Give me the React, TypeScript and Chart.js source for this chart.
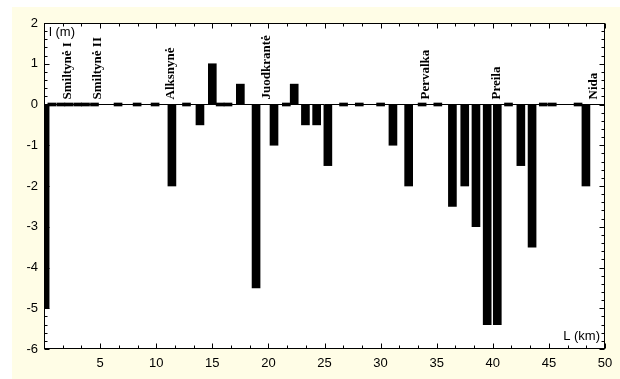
import React, { useEffect, useRef } from "react";
import { Chart, registerables } from "chart.js";
Chart.register(...registerables);

// Position along the spit (km) and shoreline change l (m)
const km = [
  0.1, 0.7, 1.5, 2.2, 3.0, 3.7, 4.5, 6.6, 8.3, 9.9,
  11.4, 12.7, 13.9, 15.0, 15.7, 16.4, 17.5, 18.9, 20.5, 21.6,
  22.3, 23.3, 24.3, 25.3, 26.7, 28.1, 30.0, 31.1, 32.5, 33.7,
  35.1, 36.4, 37.5, 38.5, 39.5, 40.4, 41.4, 42.5, 43.5, 44.5,
  45.3, 47.6, 48.3,
];
const change = [
  -5, 0, 0, 0, 0, 0, 0, 0, 0, 0,
  -2, 0, -0.5, 1, 0, 0, 0.5, -4.5, -1, 0,
  0.5, -0.5, -0.5, -1.5, 0, 0, 0, -1, -2, 0,
  0, -2.5, -2, -3, -5.4, -5.4, 0, -1.5, -3.5, 0,
  0, 0, -2,
];
const stationNames = ["Smiltynė I", "Smiltynė II", "Alksnynė", "Juodkrantė", "Pervalka", "Preila", "Nida"];
const stationKm = [2.1, 4.8, 11.3, 19.8, 34.0, 40.3, 49.0];
const yAxisTitle = "l (m)";
const xAxisTitle = "L (km)";

const decorPlugin = {
  id: "decor",
  beforeDraw(chart: any) {
    const { ctx, chartArea: a, width, height } = chart;
    ctx.save();
    ctx.fillStyle = "#ffffff";
    ctx.fillRect(0, 0, width, height);
    ctx.fillStyle = "#fffde6";
    ctx.fillRect(12, 7, width - 12, height - 7);
    ctx.fillStyle = "#ffffff";
    ctx.fillRect(a.left, a.top, a.right - a.left, a.bottom - a.top);
    ctx.restore();
  },
  afterDatasetsDraw(chart: any) {
    const { ctx, chartArea: a, scales } = chart;
    const xs = scales.x;
    const ys = scales.y;
    ctx.save();
    ctx.strokeStyle = "#000";
    ctx.lineWidth = 1;
    const L = Math.round(a.left) + 0.5;
    const R = Math.round(a.right) - 0.5;
    const T = Math.round(a.top) + 0.5;
    const B = Math.round(a.bottom) - 0.5;
    ctx.strokeRect(L, T, R - L, B - T);
    ctx.beginPath();
    for (let i = 0; i <= 30; i++) {
      const v = (i * 5) / 3;
      const px = Math.round(xs.getPixelForValue(v)) + 0.5;
      const len = i % 3 === 0 ? 5 : 3;
      ctx.moveTo(px, B);
      ctx.lineTo(px, B - len);
      ctx.moveTo(px, T);
      ctx.lineTo(px, T + len);
    }
    for (let i = 0; i <= 40; i++) {
      const v = -6 + i * 0.2;
      const py = Math.round(ys.getPixelForValue(v)) + 0.5;
      const len = i % 5 === 0 ? 5 : 3;
      ctx.moveTo(L, py);
      ctx.lineTo(L + len, py);
      ctx.moveTo(R, py);
      ctx.lineTo(R - len, py);
    }
    ctx.stroke();

    ctx.fillStyle = "#000";
    ctx.font = "13px 'Liberation Sans', Arial, sans-serif";
    ctx.textAlign = "left";
    ctx.textBaseline = "top";
    ctx.fillText(yAxisTitle, a.left + 5, a.top + 3);
    ctx.textAlign = "right";
    ctx.textBaseline = "middle";
    ctx.fillText(xAxisTitle, a.right - 5, a.bottom - 13);

    const y0 = ys.getPixelForValue(0);
    ctx.font = "bold 13px 'Liberation Serif', 'Times New Roman', serif";
    ctx.textAlign = "left";
    ctx.textBaseline = "middle";
    stationNames.forEach((name, i) => {
      const px = xs.getPixelForValue(stationKm[i]);
      ctx.save();
      ctx.translate(px, y0 - 5);
      ctx.rotate(-Math.PI / 2);
      ctx.fillText(name, 0, 0);
      ctx.restore();
    });
    ctx.restore();
  },
};

export default function App() {
  const ref = useRef<HTMLCanvasElement | null>(null);
  useEffect(() => {
    if (!ref.current) return;
    const chart = new Chart(ref.current, {
      type: "bar",
      data: {
        datasets: [
          {
            data: km.map((x, i) => ({ x, y: change[i] })),
            backgroundColor: "#000",
            borderWidth: 0,
            barThickness: 8,
            minBarLength: 3,
            clip: 0,
          } as any,
        ],
      },
      options: {
        animation: false,
        responsive: false,
        layout: { padding: { top: 23, right: 15, bottom: 0, left: 0 } },
        plugins: { legend: { display: false }, tooltip: { enabled: false } },
        scales: {
          x: {
            type: "linear",
            min: 0,
            max: 50,
            offset: false,
            grid: { display: false, drawTicks: false, offset: false },
            border: { display: false },
            ticks: {
              stepSize: 5,
              padding: 7,
              color: "#000",
              font: { family: "'Liberation Sans', Arial, sans-serif", size: 13 },
              callback: (v: any) => (v === 0 ? "" : String(v)),
              maxRotation: 0,
            },
            afterFit: (s: any) => {
              s.height = 30;
            },
          },
          y: {
            type: "linear",
            min: -6,
            max: 2,
            grid: {
              drawTicks: false,
              color: (c: any) => (c.tick && c.tick.value === 0 ? "#000" : "rgba(0,0,0,0)"),
              lineWidth: 1,
            },
            border: { display: false },
            ticks: {
              stepSize: 1,
              padding: 6,
              color: "#000",
              font: { family: "'Liberation Sans', Arial, sans-serif", size: 13 },
            },
            afterFit: (s: any) => {
              s.width = 44;
            },
          },
        },
      } as any,
      plugins: [decorPlugin],
    });
    return () => chart.destroy();
  }, []);
  return (
    <div style={{ position: "fixed", left: 0, top: 0, width: 620, height: 379 }}>
      <canvas ref={ref} width={620} height={379} style={{ display: "block" }} />
    </div>
  );
}
